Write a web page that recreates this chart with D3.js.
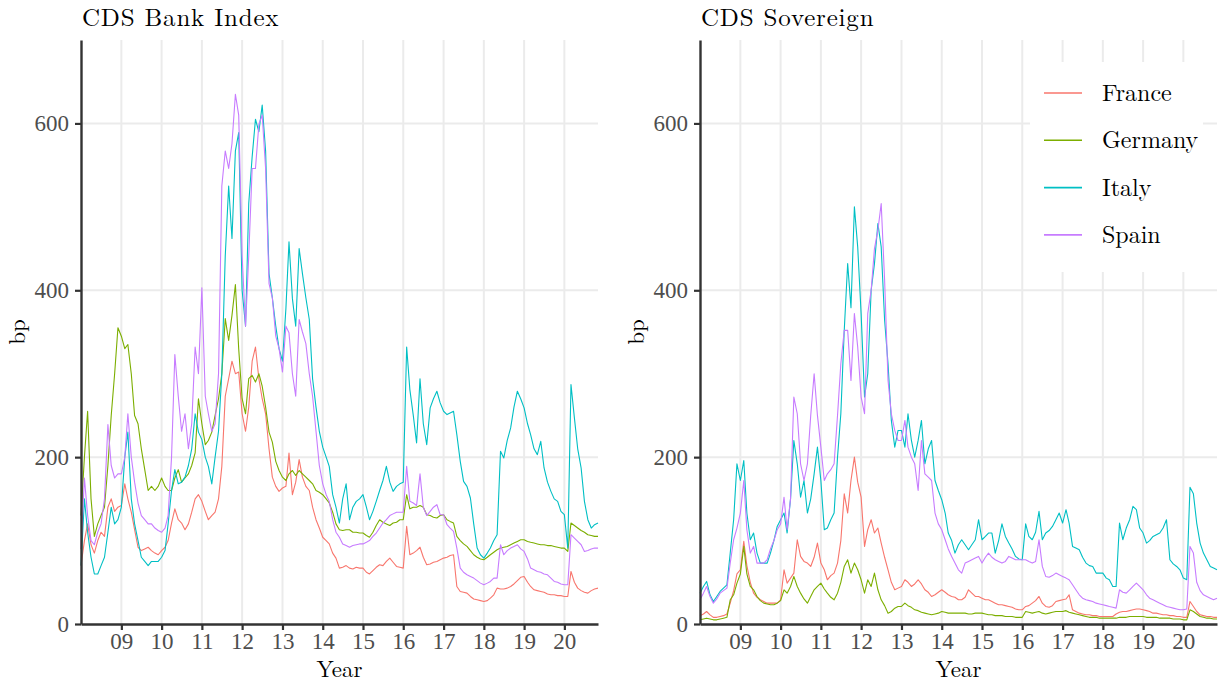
<!DOCTYPE html>
<html lang="en">
<head>
<meta charset="UTF-8">
<title>CDS</title>
<script src="https://cdnjs.cloudflare.com/ajax/libs/d3/7.8.5/d3.min.js"></script>
<style>
    body { margin: 0; background: #fff; }
    svg text { font-family: "Latin Modern Roman", "CMU Serif", "Liberation Serif", serif; }
</style>
</head>
<body>
<svg id="chart" width="1221" height="686"></svg>
<script>
// monthly readings, Jan 2008 .. Nov 2020 (one row per year)
var countries = ["France", "Germany", "Italy", "Spain"];
var colours = ["#F8766D", "#7CAE00", "#00BFC4", "#C77CFF"];
var yTicks = [0, 200, 400, 600];
var xTickYears = [2009, 2010, 2011, 2012, 2013, 2014, 2015, 2016, 2017, 2018, 2019, 2020];
var panelTitles = ["CDS Bank Index", "CDS Sovereign"];

var bankFrance = [
    70, 100, 120, 95, 85, 100, 110, 105, 140, 150, 135, 140,
    142, 168, 150, 134, 113, 92, 88, 90, 92, 88, 85, 83,
    88, 92, 100, 121, 138, 125, 121, 113, 120, 134, 150, 155,
    147, 135, 125, 130, 134, 150, 189, 273, 294, 315, 300, 302,
    252, 231, 260, 315, 332, 294, 270, 252, 210, 176, 165, 159,
    163, 165, 205, 155, 170, 197, 176, 165, 160, 140, 125, 115,
    104, 100, 96, 85, 79, 67, 68, 70, 67, 66, 68, 67,
    67, 62, 60, 64, 68, 71, 70, 75, 79, 74, 69, 68,
    67, 117, 83, 85, 88, 92, 80, 71, 72, 74, 75, 77,
    79, 80, 82, 83, 45, 39, 38, 37, 33, 30, 29, 28,
    27, 28, 31, 35, 43, 42, 42, 43, 45, 48, 52, 56,
    57, 50, 45, 41, 40, 39, 38, 36, 35, 35, 34, 34,
    33, 33, 63, 50, 43, 40, 38, 37, 40, 42, 43
];
var bankGermany = [
    130, 200, 255, 150, 105, 120, 130, 140, 190, 250, 300, 355,
    345, 330, 335, 300, 250, 240, 210, 185, 160, 165, 160, 165,
    175, 165, 160, 160, 175, 185, 170, 175, 180, 190, 205, 270,
    240, 215, 220, 230, 250, 270, 300, 366, 340, 370, 407, 330,
    270, 252, 294, 298, 290, 300, 285, 260, 230, 218, 195, 184,
    176, 172, 180, 184, 178, 184, 180, 176, 172, 168, 160, 158,
    155, 150, 145, 134, 120, 113, 112, 113, 113, 110, 110, 109,
    109, 106, 104, 110, 118, 125, 122, 120, 118, 121, 122, 125,
    125, 155, 138, 140, 140, 142, 140, 131, 130, 128, 127, 130,
    131, 125, 123, 121, 105, 100, 96, 93, 88, 83, 80, 78,
    77, 80, 83, 86, 89, 91, 92, 93, 95, 97, 99, 101,
    101, 99, 98, 97, 96, 95, 95, 94, 94, 93, 92, 91,
    91, 87, 121, 118, 115, 112, 110, 107, 106, 105, 105
];
var bankItaly = [
    70, 150, 110, 80, 60, 60, 70, 80, 110, 140, 120, 125,
    140, 200, 230, 150, 120, 100, 80, 75, 70, 75, 75, 75,
    80, 88, 120, 160, 185, 168, 170, 176, 190, 210, 252, 230,
    221, 200, 189, 168, 200, 231, 300, 441, 525, 462, 567, 589,
    400, 357, 504, 560, 605, 590, 622, 567, 420, 391, 357, 330,
    315, 378, 458, 390, 357, 450, 420, 391, 365, 294, 260, 231,
    212, 200, 189, 155, 140, 121, 150, 168, 125, 140, 147, 150,
    155, 140, 125, 135, 147, 160, 172, 189, 170, 159, 165, 168,
    170, 332, 281, 250, 217, 294, 240, 215, 259, 270, 279, 265,
    255, 251, 253, 255, 227, 195, 171, 165, 151, 120, 91, 83,
    79, 85, 91, 100, 107, 207, 199, 220, 235, 260, 279, 270,
    259, 240, 227, 210, 203, 219, 187, 170, 159, 150, 147, 135,
    131, 91, 287, 247, 210, 187, 147, 125, 115, 119, 121
];
var bankSpain = [
    90, 175, 130, 100, 95, 110, 120, 150, 239, 190, 175, 180,
    180, 200, 252, 200, 170, 145, 130, 125, 120, 120, 115, 112,
    110, 115, 130, 200, 323, 273, 231, 252, 210, 240, 332, 300,
    403, 273, 252, 231, 240, 300, 525, 567, 546, 576, 635, 610,
    441, 357, 441, 546, 546, 599, 610, 546, 408, 391, 345, 330,
    302, 357, 349, 300, 273, 365, 350, 336, 300, 273, 231, 190,
    168, 155, 147, 125, 110, 104, 96, 94, 92, 94, 95, 96,
    96, 98, 100, 105, 109, 115, 121, 125, 130, 132, 134, 134,
    134, 189, 147, 145, 142, 180, 140, 130, 135, 140, 143, 131,
    131, 119, 115, 111, 91, 67, 62, 59, 57, 55, 52, 49,
    47, 49, 51, 55, 55, 95, 83, 88, 91, 93, 95, 90,
    87, 78, 67, 65, 63, 62, 60, 59, 55, 51, 50, 48,
    47, 47, 107, 103, 99, 95, 87, 88, 90, 91, 91
];

var sovFrance = [
    10, 12, 15, 11, 8, 8, 9, 10, 12, 25, 40, 60,
    65, 99, 70, 50, 37, 32, 29, 27, 25, 25, 25, 25,
    29, 65, 49, 55, 61, 101, 81, 75, 73, 69, 80, 97,
    73, 65, 53, 58, 61, 73, 100, 156, 133, 172, 200, 170,
    152, 93, 113, 125, 109, 115, 97, 80, 65, 50, 41, 43,
    45, 53, 50, 45, 48, 53, 48, 41, 38, 33, 35, 38,
    41, 38, 35, 33, 32, 29, 29, 32, 41, 37, 33, 33,
    31, 29, 29, 27, 25, 23, 23, 22, 21, 20, 18, 17,
    17, 21, 22, 25, 28, 33, 25, 21, 20, 22, 27, 28,
    29, 30, 35, 17, 15, 13, 12, 11, 11, 10, 10, 9,
    9, 9, 9, 9, 12, 14, 15, 15, 16, 17, 18, 18,
    17, 16, 15, 13, 13, 12, 11, 11, 10, 10, 9, 9,
    8, 8, 27, 21, 15, 11, 10, 9, 9, 8, 8
];
var sovGermany = [
    5, 6, 7, 6, 5, 5, 6, 7, 8, 29, 35, 49,
    60, 93, 60, 45, 41, 33, 28, 25, 24, 23, 23, 25,
    28, 41, 37, 45, 57, 45, 37, 30, 25, 33, 41, 45,
    49, 42, 37, 32, 29, 37, 50, 69, 77, 61, 73, 65,
    53, 37, 53, 45, 61, 41, 29, 22, 13, 15, 19, 21,
    21, 25, 22, 20, 17, 16, 14, 13, 12, 11, 12, 13,
    15, 14, 13, 13, 13, 13, 13, 13, 12, 12, 13, 13,
    13, 12, 11, 11, 10, 10, 10, 9, 9, 9, 8, 8,
    8, 15, 14, 13, 14, 15, 13, 12, 13, 14, 15, 15,
    15, 16, 14, 13, 12, 11, 10, 9, 8, 8, 8, 7,
    7, 7, 7, 7, 7, 8, 8, 8, 9, 9, 9, 9,
    9, 8, 8, 8, 8, 7, 7, 7, 7, 6, 6, 6,
    5, 5, 17, 15, 12, 9, 8, 7, 7, 6, 6
];
var sovItaly = [
    37, 45, 51, 35, 27, 33, 39, 43, 47, 85, 125, 192,
    172, 196, 133, 101, 109, 85, 73, 73, 73, 85, 100, 117,
    125, 133, 109, 150, 220, 192, 152, 172, 133, 150, 180, 212,
    172, 113, 115, 125, 133, 200, 252, 352, 432, 379, 500, 452,
    372, 272, 300, 400, 432, 480, 452, 364, 312, 244, 212, 232,
    232, 212, 252, 220, 200, 220, 244, 192, 210, 220, 172, 160,
    149, 133, 109, 100, 85, 95, 101, 95, 89, 95, 101, 125,
    101, 105, 109, 109, 85, 100, 120, 105, 97, 90, 81, 78,
    77, 120, 105, 101, 110, 135, 101, 109, 112, 117, 125, 133,
    121, 137, 121, 93, 91, 89, 80, 73, 70, 69, 61, 61,
    61, 55, 53, 45, 45, 121, 101, 115, 125, 141, 137, 115,
    109, 97, 100, 105, 107, 109, 115, 125, 77, 72, 69, 65,
    55, 53, 164, 156, 121, 97, 85, 77, 69, 67, 65
];
var sovSpain = [
    29, 37, 45, 33, 25, 30, 37, 40, 43, 73, 101, 115,
    133, 172, 113, 85, 93, 73, 73, 73, 77, 90, 100, 113,
    120, 152, 113, 150, 272, 252, 192, 172, 192, 250, 300, 250,
    212, 172, 180, 185, 192, 250, 312, 352, 352, 292, 372, 332,
    272, 252, 372, 400, 450, 472, 504, 412, 292, 252, 232, 220,
    220, 244, 212, 200, 192, 160, 220, 180, 176, 172, 133, 120,
    113, 101, 90, 81, 73, 65, 61, 73, 75, 77, 79, 81,
    73, 80, 85, 80, 77, 75, 73, 75, 81, 79, 77, 77,
    77, 77, 75, 73, 75, 101, 69, 57, 56, 58, 61, 59,
    57, 55, 53, 47, 41, 35, 31, 29, 28, 27, 25, 24,
    23, 22, 21, 20, 19, 41, 38, 37, 41, 45, 49, 45,
    41, 35, 31, 29, 27, 25, 23, 21, 20, 19, 18, 17,
    17, 18, 93, 85, 50, 40, 35, 33, 31, 29, 31
];

var panelSeries = [
    [bankFrance, bankGermany, bankItaly, bankSpain],
    [sovFrance, sovGermany, sovItaly, sovSpain]
];

function drawChart() {
    var startMonth = new Date(2008, 0, 1);
    var dateAt = function (i) { return d3.timeMonth.offset(startMonth, i); };

    var svg = d3.select('#chart');
    var plotTop = 40, plotBottom = 624;
    var panelX = [[81, 598], [700, 1217]];
    var axisColour = '#333333';

    var y = d3.scaleLinear().domain([0, 700]).range([plotBottom, plotTop]);

    panelSeries.forEach(function (series, p) {
        var n = series[0].length;
        var x = d3.scaleTime()
            .domain([dateAt(0), dateAt(n - 1)])
            .range(panelX[p]);
        var tickDates = xTickYears.map(function (yr) { return new Date(yr, 0, 1); });

        var g = svg.append('g');

        // grid
        g.selectAll('.vgrid').data(tickDates).enter().append('line')
            .attr('x1', function (d) { return x(d); })
            .attr('x2', function (d) { return x(d); })
            .attr('y1', plotTop).attr('y2', plotBottom)
            .attr('stroke', '#ebebeb').attr('stroke-width', 2);
        g.selectAll('.hgrid').data(yTicks.slice(1)).enter().append('line')
            .attr('x1', panelX[p][0]).attr('x2', panelX[p][1])
            .attr('y1', function (d) { return y(d); })
            .attr('y2', function (d) { return y(d); })
            .attr('stroke', '#ebebeb').attr('stroke-width', 2);

        // series
        var line = d3.line()
            .x(function (d, i) { return x(dateAt(i)); })
            .y(function (d) { return y(d); });

        series.forEach(function (vals, k) {
            g.append('path')
                .datum(vals)
                .attr('d', line)
                .attr('fill', 'none')
                .attr('stroke', colours[k])
                .attr('stroke-width', 1.1)
                .attr('stroke-linejoin', 'round');
        });

        // axes
        var yAxis = g.append('g')
            .attr('transform', 'translate(' + panelX[p][0] + ',0)')
            .call(d3.axisLeft(y).tickValues(yTicks).tickSize(6).tickSizeOuter(0).tickPadding(6));
        var xAxis = g.append('g')
            .attr('transform', 'translate(0,' + plotBottom + ')')
            .call(d3.axisBottom(x).tickValues(tickDates).tickFormat(d3.timeFormat('%y'))
                .tickSize(6).tickSizeOuter(0).tickPadding(3));

        [yAxis, xAxis].forEach(function (ax) {
            ax.select('.domain').attr('stroke', axisColour).attr('stroke-width', 2.4);
            ax.selectAll('.tick line').attr('stroke', axisColour).attr('stroke-width', 2.2);
            ax.selectAll('.tick text')
                .attr('fill', '#4d4d4d')
                .style('font-size', '23px')
                .style('font-family', '"Liberation Serif", serif');
        });

        // titles
        g.append('text')
            .attr('x', panelX[p][0] + 1)
            .attr('y', 26)
            .attr('fill', '#000')
            .style('font-size', '25px')
            .style('letter-spacing', '0.8px')
            .text(panelTitles[p]);

        g.append('text')
            .attr('x', (panelX[p][0] + panelX[p][1]) / 2)
            .attr('y', 677)
            .attr('text-anchor', 'middle')
            .attr('fill', '#000')
            .style('font-size', '23px')
            .text('Year');

        g.append('text')
            .attr('transform', 'translate(' + (panelX[p][0] - 56) + ',' + ((plotTop + plotBottom) / 2) + ') rotate(-90)')
            .attr('text-anchor', 'middle')
            .attr('fill', '#000')
            .style('font-size', '23px')
            .text('bp');
    });

    // legend, inside the right panel
    var legend = svg.append('g').attr('transform', 'translate(1030, 62)');
    legend.append('rect')
        .attr('width', 173).attr('height', 210)
        .attr('fill', '#fff');

    var item = legend.selectAll('.item').data(countries).enter().append('g')
        .attr('transform', function (d, i) { return 'translate(0,' + (31 + i * 47.3) + ')'; });
    item.append('line')
        .attr('x1', 14).attr('x2', 52)
        .attr('stroke', function (d, i) { return colours[i]; })
        .attr('stroke-width', 1.6);
    item.append('text')
        .attr('x', 72)
        .attr('dy', '0.33em')
        .attr('fill', '#000')
        .style('font-size', '24px')
        .text(function (d) { return d; });
}
drawChart();
</script>
</body>
</html>
